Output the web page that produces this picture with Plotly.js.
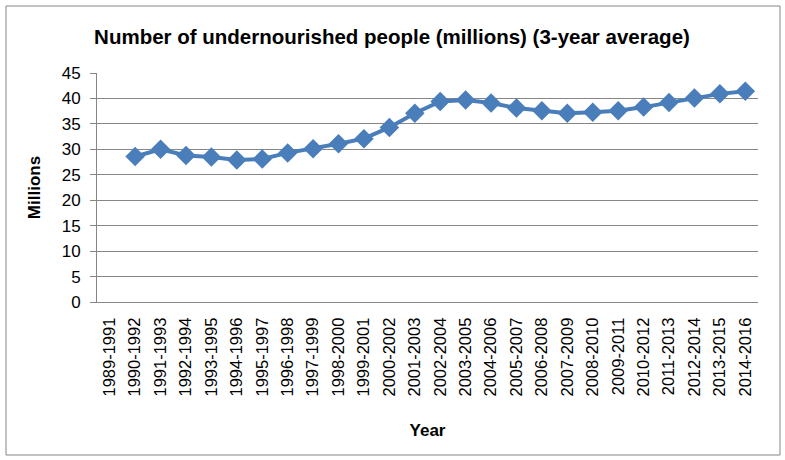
<!DOCTYPE html>
<html>
<head>
<meta charset="utf-8">
<script src="https://cdn.plot.ly/plotly-3.0.1.min.js"></script>
<style>
html, body { margin: 0; padding: 0; background: #fff; }
#chart { width: 785px; height: 460px; }
</style>
</head>
<body>
<div id="chart"></div>
<script>
const periods = ["1989-1991","1990-1992","1991-1993","1992-1994","1993-1995","1994-1996","1995-1997","1996-1998","1997-1999","1998-2000","1999-2001","2000-2002","2001-2003","2002-2004","2003-2005","2004-2006","2005-2007","2006-2008","2007-2009","2008-2010","2009-2011","2010-2012","2011-2013","2012-2014","2013-2015","2014-2016"];
const undernourished = [null,28.6,30.0,28.8,28.5,27.9,28.1,29.3,30.1,31.1,32.1,34.3,37.1,39.4,39.7,39.1,38.1,37.6,37.1,37.3,37.6,38.3,39.2,40.1,40.9,41.4];
const yTicks = [0,5,10,15,20,25,30,35,40,45];

const FONT = "Liberation Sans, Arial, sans-serif";
const L = 97, R = 27, T = 73, B = 158;
const W = 785, H = 460;
const pw = W - L - R, ph = H - T - B;
const px = v => (v - L) / pw;
const py = v => (H - B - v) / ph;

const trace = {
  x: periods,
  y: undernourished,
  type: 'scatter',
  mode: 'lines+markers',
  connectgaps: false,
  line: {color: '#4A7EBB', width: 4},
  marker: {symbol: 'diamond', size: 15, color: '#4A7EBB'},
  hoverinfo: 'x+y'
};

const layout = {
  width: W, height: H,
  margin: {l: L, r: R, t: T, b: B, pad: 0},
  paper_bgcolor: '#ffffff',
  plot_bgcolor: '#ffffff',
  showlegend: false,
  font: {family: FONT, color: '#000000', size: 16},
  title: {
    text: '<b>Number of undernourished people (millions) (3-year average)</b>',
    font: {family: FONT, size: 20.5, color: '#000'},
    x: 392 / W, xref: 'container', xanchor: 'center',
    y: 1 - 37 / H, yref: 'container', yanchor: 'middle'
  },
  xaxis: {
    type: 'category',
    categoryorder: 'array',
    categoryarray: periods,
    tickvals: periods,
    ticktext: periods,
    tickangle: -90,
    showgrid: false,
    zeroline: false,
    showline: true,
    linecolor: '#868686',
    linewidth: 1,
    ticks: '',
    ticklabelstandoff: 8,
    tickfont: {family: FONT, size: 16.5, color: '#000'},
    range: [-0.5, periods.length - 0.5],
    fixedrange: true,
    title: {text: '<b>Year</b>', font: {family: FONT, size: 17, color: '#000'}, standoff: 28}
  },
  yaxis: {
    range: [0, 45],
    tickvals: yTicks,
    ticktext: yTicks.map(String),
    showgrid: true,
    gridcolor: '#868686',
    gridwidth: 1,
    zeroline: false,
    showline: true,
    linecolor: '#868686',
    linewidth: 1,
    ticks: 'outside',
    ticklen: 6,
    tickcolor: '#868686',
    ticklabelstandoff: 6,
    tickfont: {family: FONT, size: 17, color: '#000'},
    fixedrange: true,
    title: {text: '<b>Millions</b>', font: {family: FONT, size: 17, color: '#000'}, standoff: 16}
  },
  shapes: [{
    type: 'rect', xref: 'paper', yref: 'paper',
    x0: px(6), x1: px(780), y0: py(455), y1: py(6),
    line: {color: '#868686', width: 1}, fillcolor: 'rgba(0,0,0,0)', layer: 'below'
  }]
};

Plotly.newPlot('chart', [trace], layout, {displayModeBar: false, staticPlot: true});
</script>
</body>
</html>
